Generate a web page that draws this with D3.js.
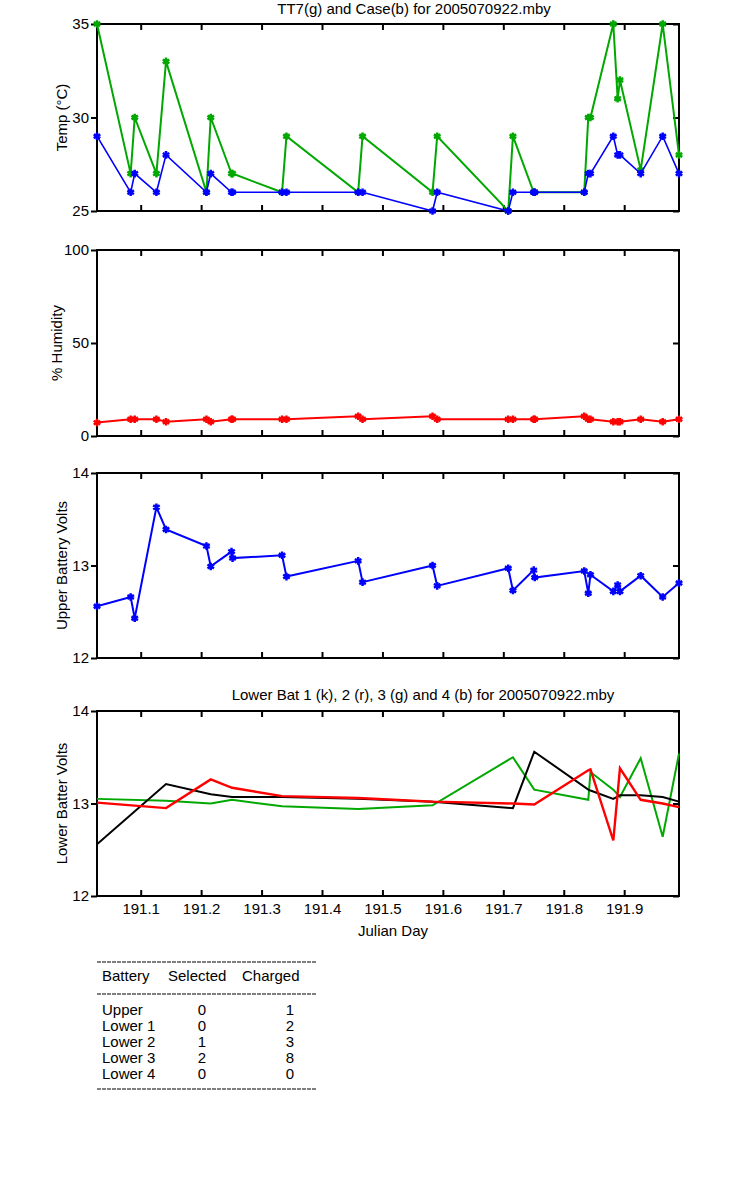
<!DOCTYPE html>
<html>
<head>
<meta charset="utf-8">
<script src="https://cdn.jsdelivr.net/npm/d3@7"></script>
<style>
  body { margin: 0; background: #fff; }
  text { font-family: "Liberation Sans", Arial, sans-serif; }
</style>
</head>
<body>
<svg width="750" height="1200"></svg>
<script>
// julian day of each sample (temp, humidity, upper battery)
const days = [191.0277, 191.0834, 191.0901, 191.1260, 191.1419, 191.2088, 191.2159,
  191.2503, 191.2520, 191.3339, 191.3412, 191.4598, 191.4671, 191.5829, 191.5906,
  191.7081, 191.7159, 191.7503, 191.7520, 191.8339, 191.8406, 191.8442, 191.8820,
  191.8892, 191.8930, 191.9273, 191.9637, 191.9907];

const tt7 = [35, 27, 30, 27, 33, 26, 30, 27, 27, 26, 29, 26, 29, 26, 29, 25, 29, 26, 26,
  26, 30, 30, 35, 31, 32, 27.2, 35, 28];
const caseTemp = [29, 26, 27, 26, 28, 26, 27, 26, 26, 26, 26, 26, 26, 25, 26, 25, 26, 26, 26,
  26, 27, 27, 29, 28, 28, 27, 29, 27];
const humidity = [7.2, 9, 9, 9, 7.7, 9, 7.7, 9, 9, 9, 9, 10.6, 9, 10.6, 9, 9, 9, 9, 9,
  10.6, 9, 9, 7.7, 7.7, 7.7, 9, 7.7, 9];
const upperVolts = [12.56, 12.66, 12.43, 13.63, 13.39, 13.21, 12.99, 13.15, 13.08, 13.11,
  12.88, 13.05, 12.82, 13.00, 12.78, 12.97, 12.73, 12.95, 12.87, 12.94, 12.70, 12.90,
  12.72, 12.79, 12.72, 12.89, 12.66, 12.81];

// lower batteries were logged less often
const lowerDays = [191.0277, 191.1419, 191.2159, 191.2512, 191.3339, 191.4598, 191.5829,
  191.7159, 191.7512, 191.8406, 191.8442, 191.8820, 191.8930, 191.9273, 191.9637, 191.9907];
const lower1 = [12.56, 13.21, 13.10, 13.07, 13.07, 13.05, 13.02, 12.95, 13.56, 13.15, 13.14,
  13.05, 13.09, 13.09, 13.07, 13.02];
const lower2 = [13.01, 12.95, 13.26, 13.17, 13.08, 13.06, 13.02, 13.00, 12.99, 13.36, 13.37,
  12.60, 13.38, 13.04, 13.00, 12.96];
const lower3 = [13.05, 13.03, 13.00, 13.04, 12.97, 12.94, 12.98, 13.50, 13.15, 13.04, 13.34,
  13.15, 13.07, 13.49, 12.64, 13.54];

const xTicks = [191.1, 191.2, 191.3, 191.4, 191.5, 191.6, 191.7, 191.8, 191.9];

const tableHead = ['Battery', 'Selected', 'Charged'];
const batteryNames = ['Upper', 'Lower 1', 'Lower 2', 'Lower 3', 'Lower 4'];
const selected = [0, 0, 1, 2, 0];
const charged = [1, 2, 3, 8, 0];

const GREEN = '#00a800', BLUE = '#0000ff', RED = '#ff0000';
const FS = 15;

const svg = d3.select('svg');
const x = d3.scaleLinear().domain(d3.extent(days)).range([97, 679]);

function panel(top, bottom, domain, ticks, label, labelX, showX) {
    const y = d3.scaleLinear().domain(domain).range([bottom, top]);
    const g = svg.append('g');
    g.append('g').attr('transform', `translate(0,${bottom})`)
        .call(d3.axisBottom(x).tickValues(xTicks).tickSize(-6).tickPadding(7)
            .tickFormat(showX ? d3.format('.1f') : ''));
    g.append('g').attr('transform', `translate(0,${top})`)
        .call(d3.axisTop(x).tickValues(xTicks).tickSize(-6).tickFormat(''));
    g.append('g').attr('transform', 'translate(97,0)')
        .call(d3.axisLeft(y).tickValues(ticks).tickSize(6).tickPadding(2)
            .tickFormat(d3.format('d')));
    g.append('g').attr('transform', 'translate(679,0)')
        .call(d3.axisRight(y).tickValues(ticks).tickSize(-6).tickFormat(''));
    g.selectAll('.domain').remove();
    g.selectAll('.tick line').attr('stroke', '#000').attr('stroke-width', 2);
    g.selectAll('.tick text').attr('font-size', FS).attr('fill', '#000')
        .attr('font-family', '"Liberation Sans", Arial, sans-serif');
    g.append('rect').attr('x', 97).attr('y', top)
        .attr('width', 582).attr('height', bottom - top)
        .attr('fill', 'none').attr('stroke', '#000').attr('stroke-width', 2);
    g.append('text').text(label)
        .attr('transform', `translate(${labelX},${(top + bottom) / 2}) rotate(-90)`)
        .attr('text-anchor', 'middle').attr('dominant-baseline', 'central')
        .attr('font-size', FS);
    return y;
}

function series(xs, vals, y, color, width, marks) {
    const pts = xs.map((d, i) => [x(d), y(vals[i])]);
    svg.append('path').attr('d', d3.line()(pts))
        .attr('fill', 'none').attr('stroke', color).attr('stroke-width', width);
    if (marks) {
        svg.append('g').selectAll('path').data(pts).join('path')
            .attr('transform', d => `translate(${d[0]},${d[1]})`)
            .attr('d', d3.symbol(d3.symbolAsterisk, 40))
            .attr('fill', 'none').attr('stroke', color).attr('stroke-width', 2.5);
    }
}

// temperatures
const yT = panel(24, 211, [25, 35], [25, 30, 35], 'Temp  (°C)', 61, false);
series(days, tt7, yT, GREEN, 2, true);
series(days, caseTemp, yT, BLUE, 1.6, true);
svg.append('text').text('TT7(g) and Case(b) for 2005070922.mby')
    .attr('x', 414).attr('y', 14).attr('text-anchor', 'middle').attr('font-size', FS);

// humidity
const yH = panel(250, 436, [0, 100], [0, 50, 100], '% Humidity', 56, false);
series(days, humidity, yH, RED, 2, true);

// upper battery
const yU = panel(473, 658, [12, 14], [12, 13, 14], 'Upper Battery Volts', 61, false);
series(days, upperVolts, yU, BLUE, 2, true);

// lower batteries
const yL = panel(711, 896, [12, 14], [12, 13, 14], 'Lower Batter Volts', 61, true);
series(lowerDays, lower3, yL, GREEN, 2, false);
series(lowerDays, lower1, yL, '#000', 2, false);
series(lowerDays, lower2, yL, RED, 2.4, false);
svg.append('text').text('Lower Bat 1 (k), 2 (r), 3 (g) and 4 (b) for 2005070922.mby')
    .attr('x', 423).attr('y', 700).attr('text-anchor', 'middle').attr('font-size', FS);
svg.append('text').text('Julian Day')
    .attr('x', 393).attr('y', 936).attr('text-anchor', 'middle').attr('font-size', FS);

// charge table
const tbl = svg.append('g');
[962, 994, 1089].forEach(yy => tbl.append('line')
    .attr('x1', 97).attr('x2', 317).attr('y1', yy).attr('y2', yy)
    .attr('stroke', '#000').attr('stroke-dasharray', '4,1'));
const headX = [102, 168, 242];
tbl.selectAll('.head').data(tableHead).join('text')
    .text(d => d).attr('x', (d, i) => headX[i]).attr('y', 981).attr('font-size', FS);
tbl.selectAll('.name').data(batteryNames).join('text')
    .text(d => d).attr('x', 102).attr('y', (d, i) => 1015 + i * 16).attr('font-size', FS);
tbl.selectAll('.sel').data(selected).join('text')
    .text(d => d).attr('x', 202).attr('y', (d, i) => 1015 + i * 16)
    .attr('text-anchor', 'middle').attr('font-size', FS);
tbl.selectAll('.chg').data(charged).join('text')
    .text(d => d).attr('x', 290).attr('y', (d, i) => 1015 + i * 16)
    .attr('text-anchor', 'middle').attr('font-size', FS);
</script>
</body>
</html>
